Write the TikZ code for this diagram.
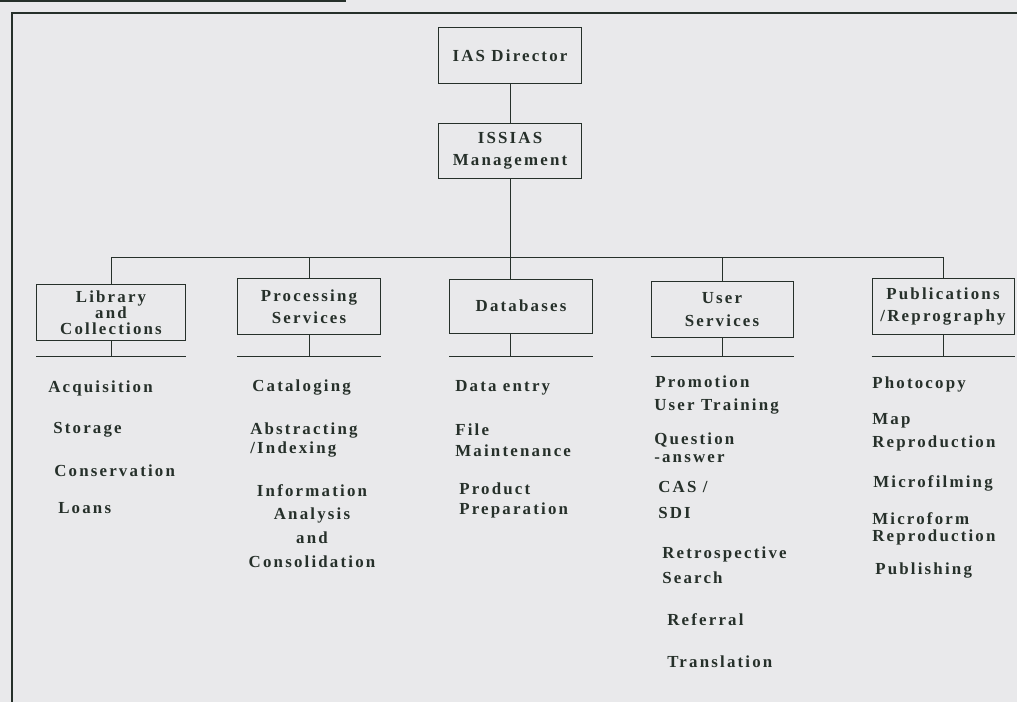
\documentclass[tikz,border=0pt]{standalone}
\usepackage{fontspec}
\setmainfont{Liberation Serif}[LetterSpace=13]
\definecolor{paper}{HTML}{E9E9EB}
\definecolor{ink}{HTML}{26302A}
\tikzset{
  unit/.style={draw=ink, line width=0.7pt, minimum width=3.55cm, minimum height=1.38cm,
    align=center, inner sep=0pt},
  task/.style={anchor=west, inner sep=0pt, align=left,
    font=\bfseries\fontsize{12}{#1}\selectfont},
  task/.default=16,
}
\begin{document}
\begin{tikzpicture}[x=0.025cm,y=-0.025cm,font=\bfseries\fontsize{12}{16}\selectfont,text=ink]
\useasboundingbox[fill=paper] (0,0) rectangle (1017,702);
%\draw[step=50,gray,very thin] (0,0) grid (1017,702); %background grid
\draw[ink,line width=1.4pt] (0,1) -- (346,1);
\draw[ink,line width=1.3pt] (1017,13) -- (12,13) -- (12,702);

% top of the chart
\node[unit] (director) at (510,55.5) {IAS Director};
\node[unit] (mgmt) at (510,151) {ISSIAS\\Management};
\coordinate (bus) at (0,257);
\coordinate (rule) at (0,356);

% the five units
\node[unit,minimum width=3.7cm,font=\bfseries\fontsize{12}{11.5}\selectfont] (lib) at (111,312.5) {Library\\and\\Collections};
\node[unit] (proc) at (309,306.5) {Processing\\Services};
\node[unit,minimum height=1.35cm] (db) at (521,306) {Databases};
\node[unit] (user) at (722,309.5) {User\\Services};
\node[unit] (pub) at (943,306.5) {Publications\\/Reprography};

\draw[ink,line width=0.7pt] (director) -- (mgmt);
\draw[ink,line width=0.7pt] (mgmt.south) -- (mgmt.south |- db.north);
\draw[ink,line width=0.7pt] (lib.north |- bus) -- (pub.north |- bus);
\foreach \u in {lib,proc,user,pub}
  \draw[ink,line width=0.7pt] (\u.north) -- (\u.north |- bus)
    (\u.south) -- (\u.south |- rule) (\u.west |- rule) -- (\u.east |- rule);
\draw[ink,line width=0.7pt] (db.south -| mgmt) -- (rule -| mgmt)
  (db.west |- rule) -- (db.east |- rule);

% library and collections
\node[task] (acq) at (48,388) {Acquisition};
\node[task] (stor) at (53,430) {Storage};
\node[task] (cons) at (54,471) {Conservation};
\node[task] (loan) at (58,508) {Loans};

% processing services
\node[task] (catal) at (252,388) {Cataloging};
\node[task=14.2] (abst) at (250,440) {Abstracting\\/Indexing};
\node[task=17,anchor=center,align=center] (anal) at (312,526) {Information\\Analysis\\and\\Consolidation};

% databases
\node[task] (entry) at (455,388) {Data entry};
\node[task=15] (maint) at (455,440.5) {File\\Maintenance};
\node[task=14.2] (prep) at (459,500) {Product\\Preparation};

% user services
\node[task] (promo) at (655,382) {Promotion};
\node[task] (train) at (654,407) {User Training};
\node[task=12.8] (quest) at (654,448) {Question\\-answer};
\node[task=18.4] (sdi) at (658,500) {CAS /\\SDI};
\node[task=17.7] (retro) at (662,565.5) {Retrospective\\Search};
\node[task] (refer) at (667,620) {Referral};
\node[task] (transl) at (667,662) {Translation};

% publications / reprography
\node[task] (copy) at (872,384) {Photocopy};
\node[task=16.3] (map) at (872,432.5) {Map\\Reproduction};
\node[task] (film) at (873,483) {Microfilming};
\node[task=12] (form) at (872,528.5) {Microform\\Reproduction};
\node[task] (publ) at (875,571) {Publishing};
\end{tikzpicture}
\end{document}
